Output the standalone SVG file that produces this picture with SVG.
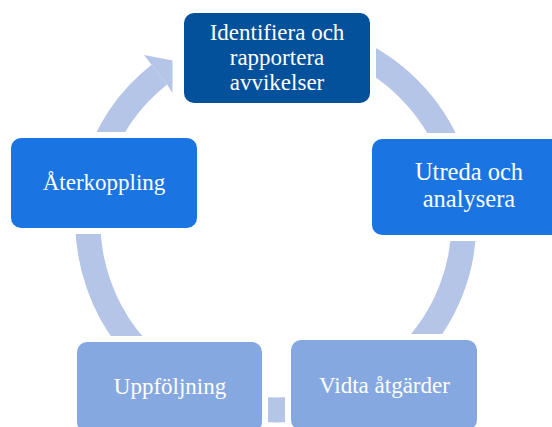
<svg xmlns="http://www.w3.org/2000/svg" width="552" height="427" viewBox="0 0 552 427">
  <style>
    .box { stroke: #ffffff; stroke-width: 12; paint-order: stroke; }
    .lbl { font-family: "Liberation Serif", "DejaVu Serif", serif; font-size: 23px; fill: #ffffff; text-anchor: middle; }
    .arc { fill: none; stroke: #B4C5E7; stroke-width: 25; stroke-linecap: butt; }
  </style>
  <rect width="552" height="427" fill="#ffffff"/>
  <g id="connectors">
    <path class="arc" d="M 276 34 A 188 188 0 0 1 276 410 A 188 188 0 0 1 159.3 74.6"/>
    <polygon fill="#B4C5E7" points="151.6,64.8 144,55 172.5,60.5 172.5,93 167.1,84.4"/>
  </g>
  <g id="node-identifiera">
    <rect class="box" x="184" y="13" width="186" height="90" rx="10" fill="#03519B"/>
    <text class="lbl" x="277" y="40">Identifiera och</text>
    <text class="lbl" x="277" y="65">rapportera</text>
    <text class="lbl" x="277" y="90">avvikelser</text>
  </g>
  <g id="node-utreda">
    <rect class="box" x="372" y="139" width="197" height="96" rx="10" fill="#1A75E3"/>
    <text class="lbl" x="469" y="180" style="font-size:24.5px">Utreda och</text>
    <text class="lbl" x="469" y="207" style="font-size:24.5px">analysera</text>
  </g>
  <g id="node-vidta">
    <rect class="box" x="291" y="340" width="186" height="90" rx="10" fill="#86A8E0"/>
    <text class="lbl" x="384.5" y="393">Vidta åtgärder</text>
  </g>
  <g id="node-uppfoljning">
    <rect class="box" x="77" y="342" width="185" height="90" rx="10" fill="#86A8E0"/>
    <text class="lbl" x="170" y="393.5">Uppföljning</text>
  </g>
  <g id="node-aterkoppling">
    <rect class="box" x="11" y="138" width="186" height="90" rx="10" fill="#1A75E3"/>
    <text class="lbl" x="104" y="190">Återkoppling</text>
  </g>
</svg>
